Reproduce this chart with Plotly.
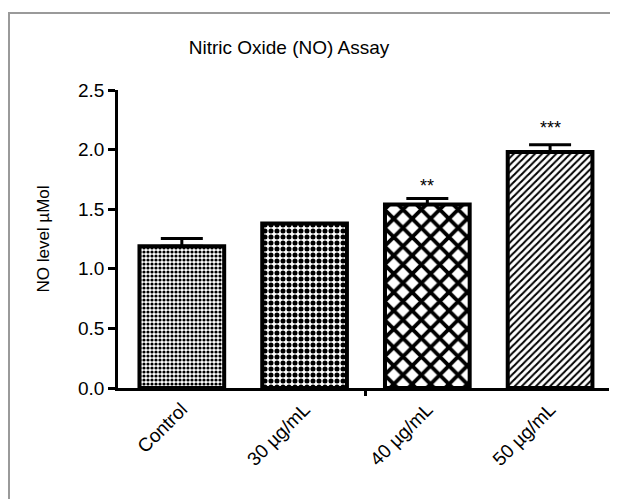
import plotly.graph_objects as go

categories = ["Control", "30 µg/mL", "40 µg/mL", "50 µg/mL"]
values = [1.19, 1.38, 1.54, 1.98]
errors = [0.065, 0.0, 0.05, 0.06]
signif = ["", "", "**", "***"]
patterns = [".", ".", "x", "/"]
pat_sizes = [4, 6, 13, 5]
pat_solid = [0.5, 0.55, 0.5, 0.4]

xpos = list(range(len(categories)))

# page is 618x499; browser body has an 8px margin, so the figure is drawn 8px in
OFF = 8
W, H = 618 - OFF, 499 - OFF
PL, PR, PT, PB = 118, 609, 90, 388          # plot area in page pixels
L, R, T, B = PL - OFF, W - (PR - OFF), PT - OFF, H - (PB - OFF)
pw, ph = W - L - R, H - T - B

font = dict(family="Arial, Liberation Sans, sans-serif", color="black")

fig = go.Figure()
fig.add_trace(go.Bar(
    x=xpos, y=values, width=0.69,
    marker=dict(color="white", line=dict(color="black", width=4),
                pattern=dict(shape=patterns, size=pat_sizes, solidity=pat_solid,
                             fgcolor="black", bgcolor="white", fillmode="replace")),
    error_y=dict(type="data", array=errors, arrayminus=[0] * len(errors), symmetric=False,
                 color="black", thickness=3, width=21),
    showlegend=False,
))
for xi, v, e, s in zip(xpos, values, errors, signif):
    if s:
        fig.add_annotation(x=xi, y=v + e, text=s, showarrow=False,
                           yshift=12 if len(s) == 2 else 17,
                           font=dict(size=18, **font))

# invisible trace anchoring a secondary x axis that carries the single middle tick
fig.add_trace(go.Scatter(x=[1.5], y=[0], xaxis="x2", mode="markers",
                         marker=dict(opacity=0), showlegend=False, hoverinfo="skip"))

fig.update_layout(
    width=W, height=H, margin=dict(l=L, r=R, t=T, b=B, autoexpand=False),
    paper_bgcolor="white", plot_bgcolor="white",
    font=font,
    title=dict(text="Nitric Oxide (NO) Assay", x=(289 - OFF) / W, xanchor="center",
               y=1 - (47 - OFF) / H, yanchor="middle", font=dict(size=19, **font)),
    xaxis=dict(range=[-0.52, 3.48], tickvals=xpos, ticktext=categories, tickangle=-45,
               ticks="", showline=True, linecolor="black", linewidth=2.5, showgrid=False,
               zeroline=False, tickfont=dict(size=19, **font)),
    xaxis2=dict(range=[-0.52, 3.48], overlaying="x", side="bottom", tickvals=[1.5],
                ticks="outside", ticklen=7, tickwidth=2.5, tickcolor="black",
                showticklabels=False, showline=False, showgrid=False, zeroline=False),
    yaxis=dict(range=[0, 2.5], tickvals=[0, 0.5, 1.0, 1.5, 2.0, 2.5],
               ticktext=["0.0", "0.5", "1.0", "1.5", "2.0", "2.5"],
               ticks="outside", ticklen=7, tickwidth=2.5, tickcolor="black",
               showline=True, linecolor="black", linewidth=2.5, showgrid=False, zeroline=False,
               tickfont=dict(size=19, **font),
               title=dict(text="NO level µMol", font=dict(size=17, **font), standoff=25)),
)
fig.add_shape(type="rect", xref="paper", yref="paper",
              x0=(9 - OFF - L) / pw, x1=(W + 20 - L) / pw,
              y0=-(B + 20) / ph, y1=1 + (T - (13 - OFF)) / ph,
              line=dict(color="#9a9a9a", width=2), layer="below")

fig.write_html("out.html")
